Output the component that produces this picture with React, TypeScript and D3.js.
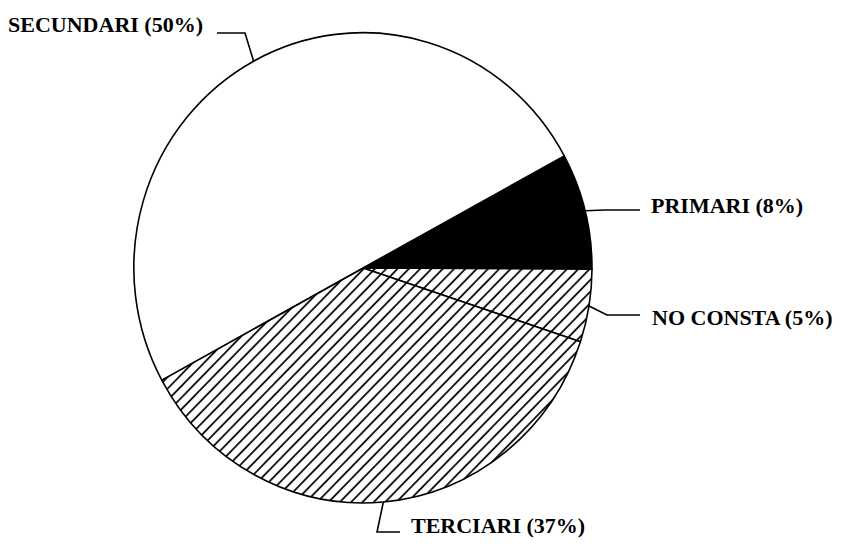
import React from 'react';
import { pie, arc } from 'd3';

const categories = ['PRIMARI', 'NO CONSTA', 'TERCIARI', 'SECUNDARI'];
const values = [8, 5, 37, 50];
const labels = ['PRIMARI (8%)', 'NO CONSTA (5%)', 'TERCIARI (37%)', 'SECUNDARI (50%)'];
const fills = ['black', 'url(#hatch)', 'url(#hatch)', 'white'];

const width = 846;
const height = 549;
const cx = 363;
const cy = 268;
const radius = 229;
const squash = 1.026;
const startDeg = 61.5;

// where each label sits and how its leader bends (after leaving the rim)
const labelLayout = [
  { x: 651, y: 213, anchor: 'start', bend: [[605, 210], [640, 210]] },
  { x: 652, y: 325, anchor: 'start', bend: [[607, 315], [640, 315]] },
  { x: 411, y: 533, anchor: 'start', bend: [[377, 532], [400, 532]] },
  { x: 203, y: 32, anchor: 'end', bend: [[245, 33], [217, 33]] },
];

const toRad = (d: number) => (d * Math.PI) / 180;

const pieGen = pie<number>()
  .sort(null)
  .value((d) => d)
  .startAngle(toRad(startDeg))
  .endAngle(toRad(startDeg + 360));

const pieArc = arc<any>().innerRadius(0).outerRadius(radius);

const App = () => {
  const slices = pieGen(values);
  return (
    <svg
      width={width}
      height={height}
      style={{ position: 'absolute', left: 0, top: 0, background: 'white' }}
    >
      <defs>
        <pattern
          id="hatch"
          patternUnits="userSpaceOnUse"
          width={8}
          height={10}
          patternTransform="rotate(45)"
        >
          <rect width={8} height={10} fill="white" />
          <line x1={1} y1={0} x2={1} y2={10} stroke="black" strokeWidth={1.7} />
        </pattern>
      </defs>
      <g transform={`translate(${cx},${cy}) scale(1,${squash})`}>
        {slices.map((d, i) => (
          <path
            key={categories[i]}
            d={pieArc(d) as string}
            fill={fills[i]}
            stroke="black"
            strokeWidth={1.6}
            strokeLinejoin="round"
          />
        ))}
      </g>
      {slices.map((d, i) => {
        const mid = (d.startAngle + d.endAngle) / 2;
        const sx = cx + radius * Math.sin(mid);
        const sy = cy - radius * squash * Math.cos(mid);
        const lay = labelLayout[i];
        const pts = [[sx, sy], ...lay.bend].map((p) => p.join(',')).join(' ');
        return (
          <g key={categories[i]}>
            <polyline points={pts} fill="none" stroke="black" strokeWidth={1.6} />
            <text
              x={lay.x}
              y={lay.y}
              textAnchor={lay.anchor}
              fontFamily="'Liberation Serif', 'DejaVu Serif', serif"
              fontWeight="bold"
              fontSize={22}
              fill="black"
            >
              {labels[i]}
            </text>
          </g>
        );
      })}
    </svg>
  );
};

export default App;
